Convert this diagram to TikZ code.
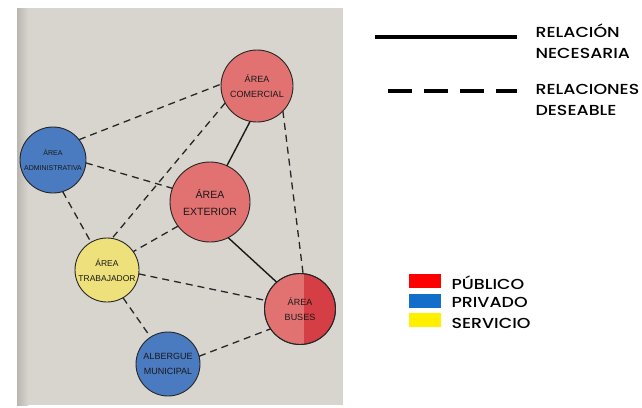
\documentclass[tikz,border=0pt]{standalone}
\usepackage{fontspec}
\setmainfont{Poppins Medium}[FakeStretch=1.2]
\newfontfamily\handfont{Liberation Sans}
\definecolor{papel}{RGB}{216,213,207}
\definecolor{papelsombra}{RGB}{185,181,175}
\definecolor{rojoacuarela}{RGB}{226,114,114}
\definecolor{rojooscuro}{RGB}{212,62,68}
\definecolor{azulacuarela}{RGB}{74,122,192}
\definecolor{amarilloacuarela}{RGB}{238,224,122}
\definecolor{publico}{RGB}{255,0,0}
\definecolor{privado}{RGB}{18,110,200}
\definecolor{servicio}{RGB}{255,240,0}

\tikzset{
  zona/.style={circle, draw=black!85, line width=0.9pt, minimum size=#1,
    inner sep=0pt, outer sep=0pt, align=center, text=black!90,
    font=\handfont\fontsize{9}{15}\selectfont},
  publica/.style={fill=rojoacuarela},
  privada/.style={fill=azulacuarela},
  serv/.style={fill=amarilloacuarela},
  necesaria/.style={line width=1.4pt, black!90},
  deseable/.style={line width=1.3pt, black!85, dash pattern=on 7pt off 5pt},
  leyenda/.style={anchor=west, align=left, font=\fontsize{14.5}{21}\selectfont},
  muestra/.style={minimum width=32pt, minimum height=14pt, inner sep=0pt}
}

\begin{document}
\begin{tikzpicture}[x=1pt, y=-1pt]
  \useasboundingbox (0,0) rectangle (642,407);

  % hoja
  \fill[papel] (17,8) rectangle (343,405);
  \shade[left color=papelsombra, right color=papel] (17,8) rectangle (28,405);

  % zonas
  \node[zona=72pt, publica] (comercial) at (257,86) {ÁREA\\COMERCIAL};
  \node[zona=66pt, privada, font=\handfont\fontsize{7}{15}\selectfont]
    (admin) at (53,160) {ÁREA\\ADMINISTRATIVA};
  \node[zona=80pt, publica, font=\handfont\fontsize{10.5}{17}\selectfont]
    (exterior) at (210,202) {ÁREA\\EXTERIOR};
  \node[zona=64pt, serv, font=\handfont\fontsize{8.5}{15}\selectfont]
    (trabajador) at (107,270) {ÁREA\\TRABAJADOR};
  \node[zona=71pt, publica,
    path picture={\fill[rojooscuro] ([xshift=4pt]path picture bounding box.south)
      rectangle (path picture bounding box.north east);}]
    (buses) at (300,309) {};
  \node[zona=71pt] (busestxt) at (300,309) {ÁREA\\BUSES};
  \node[zona=64pt, privada] (albergue) at (168,364) {ALBERGUE\\MUNICIPAL};

  % relaciones necesarias
  \draw[necesaria] (comercial.259) -- (exterior.65);
  \draw[necesaria] (exterior.297) -- (buses.131);

  % relaciones deseables
  \draw[deseable] (admin.38) -- (comercial.177);
  \draw[deseable] (comercial.208) -- (trabajador.81);
  \draw[deseable] (comercial.316) -- (buses.85);
  \draw[deseable] (admin.355) -- (exterior.160);
  \draw[deseable] (admin.287) -- (trabajador.120);
  \draw[deseable] (exterior.217) -- (trabajador.35);
  \draw[deseable] (trabajador.353) -- (buses.166);
  \draw[deseable] (trabajador.300) -- (albergue.123);
  \draw[deseable] (albergue.14) -- (buses.214);

  % leyenda de relaciones
  \coordinate (nec1) at (375,37);
  \coordinate (nec2) at (517,37);
  \coordinate (des1) at (388,91);
  \coordinate (des2) at (517,91);
  \draw[line width=4.5pt] (nec1) -- (nec2);
  \draw[line width=4.5pt, dash pattern=on 24pt off 12pt] (des1) -- (des2);
  \node[leyenda] (txtnec) at (532,41) {RELACIÓN\\NECESARIA};
  \node[leyenda] (txtdes) at (532,100) {RELACIONES\\DESEABLE};

  % leyenda de colores
  \node[muestra, fill=publico] (rojo) at (425,281) {};
  \node[muestra, fill=privado] (azul) at (425,301) {};
  \node[muestra, fill=servicio] (amarillo) at (425,320) {};
  \node[leyenda] (txtpub) at (448,283) {PÚBLICO};
  \node[leyenda] (txtpri) at (448,302) {PRIVADO};
  \node[leyenda] (txtser) at (448,323) {SERVICIO};
\end{tikzpicture}
\end{document}
